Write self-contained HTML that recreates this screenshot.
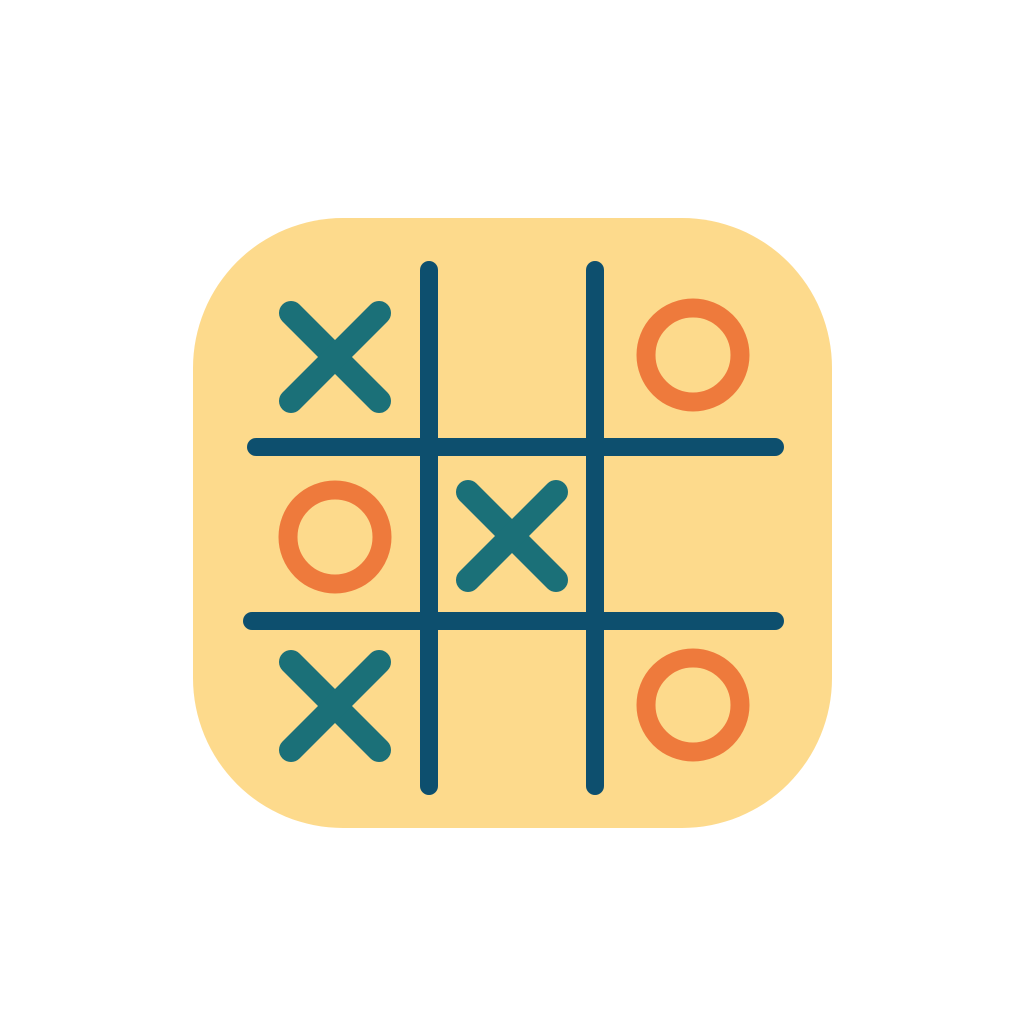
<!DOCTYPE html>
<html><head><meta charset="utf-8"><style>html,body{margin:0;padding:0;background:#fff;width:1024px;height:1024px;overflow:hidden}</style></head>
<body>
<svg width="1024" height="1024" viewBox="0 0 1024 1024">
<rect x="193" y="218" width="639" height="610" rx="150" ry="150" fill="#FDDA8C"/>
<g stroke="#0D4F6E" stroke-width="18" stroke-linecap="round">
<line x1="429" y1="270" x2="429" y2="786"/>
<line x1="595" y1="270" x2="595" y2="786"/>
<line x1="256" y1="447" x2="775" y2="447"/>
<line x1="252" y1="621" x2="775" y2="621"/>
</g>
<g stroke="#1B7078" stroke-width="24" stroke-linecap="round">
<g><line x1="291" y1="313" x2="379" y2="401"/><line x1="379" y1="313" x2="291" y2="401"/></g>
<g><line x1="468" y1="492" x2="556" y2="580"/><line x1="556" y1="492" x2="468" y2="580"/></g>
<g><line x1="291" y1="662" x2="379" y2="750"/><line x1="379" y1="662" x2="291" y2="750"/></g>
</g>
<g fill="none" stroke="#EE7A3C" stroke-width="19">
<circle cx="693" cy="355" r="47"/>
<circle cx="335" cy="537" r="47"/>
<circle cx="693" cy="705" r="47"/>
</g>
</svg>
</body></html>
